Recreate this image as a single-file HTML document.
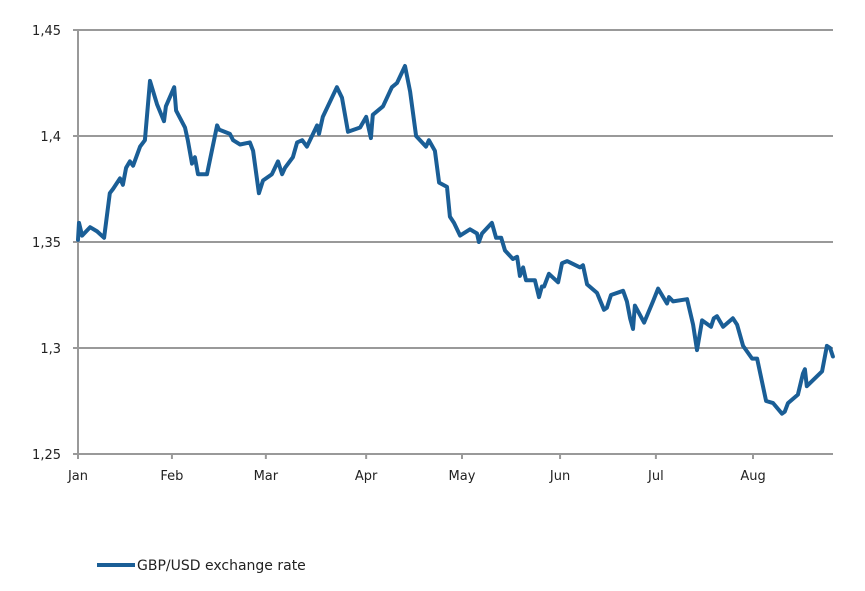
<!DOCTYPE html>
<html><head><meta charset="utf-8"><style>
body{margin:0;background:#fff;}
svg text{font-family:"DejaVu Sans","Liberation Sans",sans-serif;fill:#222;}
</style></head><body>
<svg width="865" height="586" viewBox="0 0 865 586">
<g id="grid"></g><g id="axes"></g><g id="series"></g>
<g>
<line x1="97" y1="565" x2="135" y2="565" stroke="#1a5e96" stroke-width="4"/>
<text x="137" y="570" font-size="14">GBP/USD exchange rate</text>
</g>
</svg>
<script>
const days=[0,0.3,1.3,3.8,6,8.2,10,11,13.2,14.1,15.1,16.3,17.3,19.5,21,22.6,24.8,27,27.6,30.2,30.8,33.6,34.5,35.8,36.7,37.7,40.5,43.7,44.3,47.7,48.7,50.9,54,55,56.8,58.1,60.9,62.8,64.1,65,67.5,68.8,70.4,71.9,75.1,75.7,76.9,81.3,82.9,84.8,88.6,90.5,92,92.6,95.8,98.6,100.2,102.7,104.3,106.2,109.3,110.2,112.1,113.4,115.9,116.8,118.1,120,123.1,125.3,125.9,126.9,130,131.3,132.9,134.1,136.6,137.9,138.8,139.8,140.7,143.5,144.8,145.7,146.4,147.9,150.8,152,153.6,157.7,158.6,159.9,163,165.2,166.1,167.4,171.2,172.4,173.4,174.3,174.9,177.8,180.6,182.2,185,185.6,186.9,191.3,193.2,194.4,196,198.8,199.7,200.7,202.6,205.7,207,208.9,211.7,213.3,216.1,218.3,221.1,222,223,226.1,227.7,228.3,228.9,233.7,235.2,236.2,237.1];
const rates=[1.351,1.359,1.353,1.357,1.355,1.352,1.373,1.375,1.380,1.377,1.385,1.388,1.386,1.395,1.398,1.426,1.415,1.407,1.414,1.423,1.412,1.404,1.398,1.387,1.390,1.382,1.382,1.405,1.403,1.401,1.398,1.396,1.397,1.393,1.373,1.379,1.382,1.388,1.382,1.385,1.390,1.397,1.398,1.395,1.405,1.401,1.409,1.423,1.418,1.402,1.404,1.409,1.399,1.410,1.414,1.423,1.425,1.433,1.421,1.400,1.395,1.398,1.393,1.378,1.376,1.362,1.359,1.353,1.356,1.354,1.350,1.354,1.359,1.352,1.352,1.346,1.342,1.343,1.334,1.338,1.332,1.332,1.324,1.329,1.329,1.335,1.331,1.340,1.341,1.338,1.339,1.330,1.326,1.318,1.319,1.325,1.327,1.322,1.314,1.309,1.320,1.312,1.322,1.328,1.321,1.324,1.322,1.323,1.311,1.299,1.313,1.310,1.314,1.315,1.310,1.314,1.311,1.301,1.295,1.295,1.275,1.274,1.269,1.270,1.274,1.278,1.288,1.290,1.282,1.289,1.301,1.300,1.296];
const yTicks=[1.25,1.3,1.35,1.4,1.45];
const yTickLabels=["1,25","1,3","1,35","1,4","1,45"];
const monthTicks=[0,29.5,59,90.5,120.6,151.4,181.5,212];
const monthLabels=["Jan","Feb","Mar","Apr","May","Jun","Jul","Aug"];
const NS="http://www.w3.org/2000/svg";
const X0=78,X1=833,Y0=454,Y1=30;
function xs(d){return X0+d*3.184;}
function ys(v){return Y0-(v-1.25)/0.2*(Y0-Y1);}
function mk(tag,attrs,parent){const e=document.createElementNS(NS,tag);for(const k in attrs)e.setAttribute(k,attrs[k]);parent.appendChild(e);return e;}
const grid=document.getElementById('grid'),axes=document.getElementById('axes'),series=document.getElementById('series');
yTicks.forEach((t,i)=>{
  const y=ys(t);
  const l=mk('line',{x1:73,x2:X1,y1:y,y2:y,stroke:'#999','stroke-width':2},grid);
  
  
  const tx=mk('text',{x:61,y:y+5,'text-anchor':'end','font-size':13},axes);
  tx.textContent=yTickLabels[i];
  
  
});
const ya=mk('line',{x1:X0,x2:X0,y1:Y1,y2:Y0,stroke:'#999','stroke-width':2},axes);


monthTicks.forEach((d,i)=>{
  const x=xs(d);
  const tk=mk('line',{x1:x,x2:x,y1:Y0,y2:Y0+5,stroke:'#999','stroke-width':2},axes);
  
  
  const tx=mk('text',{x:x,y:480,'text-anchor':'middle','font-size':13},axes);
  tx.textContent=monthLabels[i];
  
  
});
const pts=days.map((d,i)=>xs(d).toFixed(1)+','+ys(rates[i]).toFixed(1)).join(' ');
const pl=mk('polyline',{points:pts,fill:'none',stroke:'#1a5e96','stroke-width':4,'stroke-linejoin':'round','stroke-linecap':'round'},series);


</script>
</body></html>
